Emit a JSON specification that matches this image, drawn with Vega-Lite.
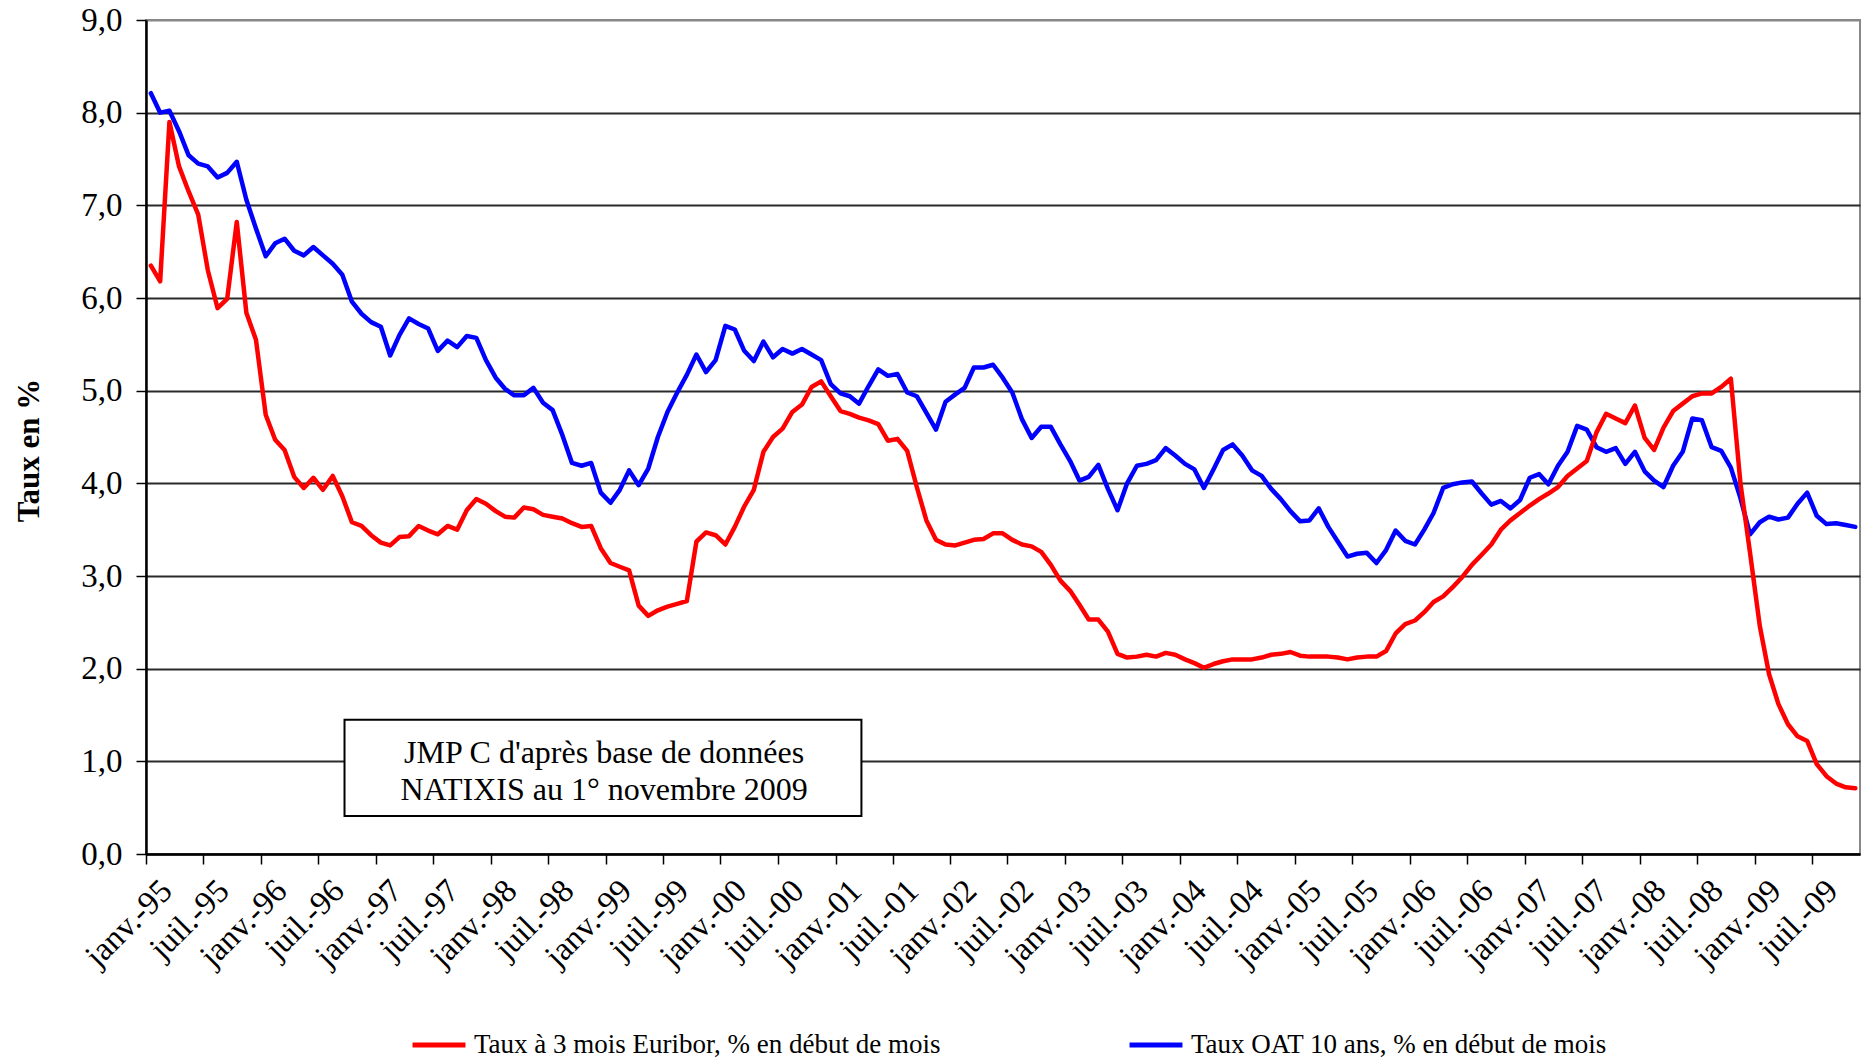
{
  "$schema": "https://vega.github.io/schema/vega-lite/v6.json",
  "width": 1714,
  "height": 834,
  "autosize": {"type": "none"},
  "padding": {"left": 146, "top": 20, "right": 1, "bottom": 209},
  "background": "white",
  "config": {
    "font": "Liberation Serif",
    "view": {"stroke": "#888888", "strokeWidth": 2},
    "axis": {"labelFont": "Liberation Serif", "titleFont": "Liberation Serif", "labelColor": "#000000", "titleColor": "#000000"}
  },
  "data": {
    "values": [
      {"m": "1995-01", "e": 6.35, "o": 8.21}, {"m": "1995-02", "e": 6.18, "o": 8.00}, {"m": "1995-03", "e": 7.90, "o": 8.02},
      {"m": "1995-04", "e": 7.42, "o": 7.80}, {"m": "1995-05", "e": 7.15, "o": 7.54}, {"m": "1995-06", "e": 6.90, "o": 7.45},
      {"m": "1995-07", "e": 6.30, "o": 7.42}, {"m": "1995-08", "e": 5.89, "o": 7.30}, {"m": "1995-09", "e": 5.99, "o": 7.35},
      {"m": "1995-10", "e": 6.82, "o": 7.47}, {"m": "1995-11", "e": 5.84, "o": 7.06}, {"m": "1995-12", "e": 5.55, "o": 6.75},
      {"m": "1996-01", "e": 4.74, "o": 6.45}, {"m": "1996-02", "e": 4.47, "o": 6.59}, {"m": "1996-03", "e": 4.36, "o": 6.64},
      {"m": "1996-04", "e": 4.07, "o": 6.51}, {"m": "1996-05", "e": 3.95, "o": 6.46}, {"m": "1996-06", "e": 4.06, "o": 6.55},
      {"m": "1996-07", "e": 3.93, "o": 6.46}, {"m": "1996-08", "e": 4.08, "o": 6.37}, {"m": "1996-09", "e": 3.86, "o": 6.25},
      {"m": "1996-10", "e": 3.58, "o": 5.96}, {"m": "1996-11", "e": 3.54, "o": 5.83}, {"m": "1996-12", "e": 3.44, "o": 5.74},
      {"m": "1997-01", "e": 3.36, "o": 5.69}, {"m": "1997-02", "e": 3.33, "o": 5.38}, {"m": "1997-03", "e": 3.42, "o": 5.60},
      {"m": "1997-04", "e": 3.43, "o": 5.78}, {"m": "1997-05", "e": 3.54, "o": 5.72}, {"m": "1997-06", "e": 3.49, "o": 5.67},
      {"m": "1997-07", "e": 3.45, "o": 5.43}, {"m": "1997-08", "e": 3.54, "o": 5.54}, {"m": "1997-09", "e": 3.50, "o": 5.47},
      {"m": "1997-10", "e": 3.71, "o": 5.59}, {"m": "1997-11", "e": 3.83, "o": 5.57}, {"m": "1997-12", "e": 3.78, "o": 5.33},
      {"m": "1998-01", "e": 3.70, "o": 5.14}, {"m": "1998-02", "e": 3.64, "o": 5.02}, {"m": "1998-03", "e": 3.63, "o": 4.95},
      {"m": "1998-04", "e": 3.74, "o": 4.95}, {"m": "1998-05", "e": 3.72, "o": 5.03}, {"m": "1998-06", "e": 3.66, "o": 4.87},
      {"m": "1998-07", "e": 3.64, "o": 4.79}, {"m": "1998-08", "e": 3.62, "o": 4.52}, {"m": "1998-09", "e": 3.57, "o": 4.22},
      {"m": "1998-10", "e": 3.53, "o": 4.19}, {"m": "1998-11", "e": 3.54, "o": 4.22}, {"m": "1998-12", "e": 3.30, "o": 3.90},
      {"m": "1999-01", "e": 3.14, "o": 3.79}, {"m": "1999-02", "e": 3.10, "o": 3.93}, {"m": "1999-03", "e": 3.06, "o": 4.14},
      {"m": "1999-04", "e": 2.68, "o": 3.98}, {"m": "1999-05", "e": 2.57, "o": 4.16}, {"m": "1999-06", "e": 2.63, "o": 4.50},
      {"m": "1999-07", "e": 2.67, "o": 4.77}, {"m": "1999-08", "e": 2.70, "o": 4.98}, {"m": "1999-09", "e": 2.73, "o": 5.17},
      {"m": "1999-10", "e": 3.37, "o": 5.39}, {"m": "1999-11", "e": 3.47, "o": 5.20}, {"m": "1999-12", "e": 3.44, "o": 5.33},
      {"m": "2000-01", "e": 3.34, "o": 5.70}, {"m": "2000-02", "e": 3.53, "o": 5.66}, {"m": "2000-03", "e": 3.75, "o": 5.43},
      {"m": "2000-04", "e": 3.93, "o": 5.32}, {"m": "2000-05", "e": 4.34, "o": 5.53}, {"m": "2000-06", "e": 4.50, "o": 5.36},
      {"m": "2000-07", "e": 4.59, "o": 5.45}, {"m": "2000-08", "e": 4.77, "o": 5.40}, {"m": "2000-09", "e": 4.85, "o": 5.45},
      {"m": "2000-10", "e": 5.04, "o": 5.39}, {"m": "2000-11", "e": 5.10, "o": 5.33}, {"m": "2000-12", "e": 4.94, "o": 5.07},
      {"m": "2001-01", "e": 4.78, "o": 4.97}, {"m": "2001-02", "e": 4.75, "o": 4.94}, {"m": "2001-03", "e": 4.71, "o": 4.86},
      {"m": "2001-04", "e": 4.68, "o": 5.05}, {"m": "2001-05", "e": 4.64, "o": 5.23}, {"m": "2001-06", "e": 4.46, "o": 5.16},
      {"m": "2001-07", "e": 4.48, "o": 5.18}, {"m": "2001-08", "e": 4.35, "o": 4.98}, {"m": "2001-09", "e": 3.96, "o": 4.94},
      {"m": "2001-10", "e": 3.60, "o": 4.76}, {"m": "2001-11", "e": 3.39, "o": 4.58}, {"m": "2001-12", "e": 3.34, "o": 4.88},
      {"m": "2002-01", "e": 3.33, "o": 4.96}, {"m": "2002-02", "e": 3.36, "o": 5.03}, {"m": "2002-03", "e": 3.39, "o": 5.25},
      {"m": "2002-04", "e": 3.40, "o": 5.25}, {"m": "2002-05", "e": 3.46, "o": 5.28}, {"m": "2002-06", "e": 3.46, "o": 5.14},
      {"m": "2002-07", "e": 3.39, "o": 4.98}, {"m": "2002-08", "e": 3.34, "o": 4.69}, {"m": "2002-09", "e": 3.32, "o": 4.49},
      {"m": "2002-10", "e": 3.26, "o": 4.61}, {"m": "2002-11", "e": 3.12, "o": 4.61}, {"m": "2002-12", "e": 2.95, "o": 4.42},
      {"m": "2003-01", "e": 2.84, "o": 4.24}, {"m": "2003-02", "e": 2.69, "o": 4.03}, {"m": "2003-03", "e": 2.53, "o": 4.07},
      {"m": "2003-04", "e": 2.53, "o": 4.20}, {"m": "2003-05", "e": 2.40, "o": 3.94}, {"m": "2003-06", "e": 2.16, "o": 3.71},
      {"m": "2003-07", "e": 2.12, "o": 4.00}, {"m": "2003-08", "e": 2.13, "o": 4.19}, {"m": "2003-09", "e": 2.15, "o": 4.21},
      {"m": "2003-10", "e": 2.13, "o": 4.25}, {"m": "2003-11", "e": 2.17, "o": 4.38}, {"m": "2003-12", "e": 2.15, "o": 4.30},
      {"m": "2004-01", "e": 2.10, "o": 4.21}, {"m": "2004-02", "e": 2.06, "o": 4.15}, {"m": "2004-03", "e": 2.01, "o": 3.95},
      {"m": "2004-04", "e": 2.05, "o": 4.15}, {"m": "2004-05", "e": 2.08, "o": 4.36}, {"m": "2004-06", "e": 2.10, "o": 4.42},
      {"m": "2004-07", "e": 2.10, "o": 4.30}, {"m": "2004-08", "e": 2.10, "o": 4.14}, {"m": "2004-09", "e": 2.12, "o": 4.08},
      {"m": "2004-10", "e": 2.15, "o": 3.94}, {"m": "2004-11", "e": 2.16, "o": 3.83}, {"m": "2004-12", "e": 2.18, "o": 3.70},
      {"m": "2005-01", "e": 2.14, "o": 3.59}, {"m": "2005-02", "e": 2.13, "o": 3.60}, {"m": "2005-03", "e": 2.13, "o": 3.73},
      {"m": "2005-04", "e": 2.13, "o": 3.53}, {"m": "2005-05", "e": 2.12, "o": 3.37}, {"m": "2005-06", "e": 2.10, "o": 3.21},
      {"m": "2005-07", "e": 2.12, "o": 3.24}, {"m": "2005-08", "e": 2.13, "o": 3.25}, {"m": "2005-09", "e": 2.13, "o": 3.14},
      {"m": "2005-10", "e": 2.19, "o": 3.28}, {"m": "2005-11", "e": 2.38, "o": 3.49}, {"m": "2005-12", "e": 2.48, "o": 3.38},
      {"m": "2006-01", "e": 2.52, "o": 3.34}, {"m": "2006-02", "e": 2.61, "o": 3.50}, {"m": "2006-03", "e": 2.72, "o": 3.68},
      {"m": "2006-04", "e": 2.78, "o": 3.95}, {"m": "2006-05", "e": 2.88, "o": 3.99}, {"m": "2006-06", "e": 2.99, "o": 4.01},
      {"m": "2006-07", "e": 3.12, "o": 4.02}, {"m": "2006-08", "e": 3.23, "o": 3.89}, {"m": "2006-09", "e": 3.34, "o": 3.77},
      {"m": "2006-10", "e": 3.50, "o": 3.81}, {"m": "2006-11", "e": 3.60, "o": 3.73}, {"m": "2006-12", "e": 3.68, "o": 3.82},
      {"m": "2007-01", "e": 3.76, "o": 4.06}, {"m": "2007-02", "e": 3.83, "o": 4.10}, {"m": "2007-03", "e": 3.89, "o": 3.99},
      {"m": "2007-04", "e": 3.96, "o": 4.19}, {"m": "2007-05", "e": 4.08, "o": 4.34}, {"m": "2007-06", "e": 4.16, "o": 4.62},
      {"m": "2007-07", "e": 4.24, "o": 4.58}, {"m": "2007-08", "e": 4.55, "o": 4.39}, {"m": "2007-09", "e": 4.75, "o": 4.34},
      {"m": "2007-10", "e": 4.70, "o": 4.38}, {"m": "2007-11", "e": 4.65, "o": 4.21}, {"m": "2007-12", "e": 4.84, "o": 4.34},
      {"m": "2008-01", "e": 4.49, "o": 4.13}, {"m": "2008-02", "e": 4.36, "o": 4.03}, {"m": "2008-03", "e": 4.60, "o": 3.96},
      {"m": "2008-04", "e": 4.78, "o": 4.19}, {"m": "2008-05", "e": 4.86, "o": 4.34}, {"m": "2008-06", "e": 4.94, "o": 4.70},
      {"m": "2008-07", "e": 4.97, "o": 4.68}, {"m": "2008-08", "e": 4.97, "o": 4.39}, {"m": "2008-09", "e": 5.04, "o": 4.35},
      {"m": "2008-10", "e": 5.13, "o": 4.17}, {"m": "2008-11", "e": 4.00, "o": 3.84}, {"m": "2008-12", "e": 3.25, "o": 3.45},
      {"m": "2009-01", "e": 2.46, "o": 3.58}, {"m": "2009-02", "e": 1.94, "o": 3.64}, {"m": "2009-03", "e": 1.62, "o": 3.61},
      {"m": "2009-04", "e": 1.40, "o": 3.63}, {"m": "2009-05", "e": 1.27, "o": 3.78}, {"m": "2009-06", "e": 1.22, "o": 3.90},
      {"m": "2009-07", "e": 0.97, "o": 3.65}, {"m": "2009-08", "e": 0.84, "o": 3.56}, {"m": "2009-09", "e": 0.76, "o": 3.57},
      {"m": "2009-10", "e": 0.72, "o": 3.55}, {"m": "2009-11", "e": 0.71, "o": 3.53}
    ]
  },
  "layer": [
    {
      "transform": [{"fold": ["o", "e"], "as": ["serie", "taux"]}],
      "mark": {"type": "line", "strokeWidth": 4.5, "strokeJoin": "round", "strokeCap": "round"},
      "encoding": {
        "x": {
          "field": "m",
          "type": "temporal",
          "timeUnit": "utcyearmonth",
          "bandPosition": 0.5,
          "scale": {
            "type": "utc",
            "domain": [{"year": 1995, "month": 1, "date": 1, "utc": true}, {"year": 2009, "month": 12, "date": 1, "utc": true}]
          },
          "axis": {
            "title": null,
            "grid": false,
            "tickCount": {"interval": "month", "step": 6},
            "labelExpr": "(utcmonth(datum.value) == 0 ? 'janv.' : 'juil.') + '-' + utcFormat(datum.value, '%y')",
            "labelAngle": -45,
            "labelAlign": "right",
            "labelBaseline": "top",
            "labelFontSize": 33,
            "labelPadding": 10,
            "labelOffset": 9,
            "labelOverlap": false,
            "labelBound": false,
            "labelFlush": false,
            "tickSize": 10,
            "tickColor": "#000000",
            "tickWidth": 1.5,
            "domainColor": "#000000",
            "domainWidth": 2.5
          }
        },
        "y": {
          "field": "taux",
          "type": "quantitative",
          "scale": {"domain": [0, 9], "nice": false, "zero": true},
          "axis": {
            "values": [0, 1, 2, 3, 4, 5, 6, 7, 8, 9],
            "labelExpr": "replace(format(datum.value, '.1f'), '.', ',')",
            "labelFontSize": 33,
            "labelPadding": 14,
            "tickSize": 10,
            "tickColor": "#000000",
            "tickWidth": 1.5,
            "domainColor": "#000000",
            "domainWidth": 2.5,
            "grid": true,
            "gridColor": {"condition": {"test": "datum.value === 9", "value": "#888888"}, "value": "#2a2a2a"},
            "gridWidth": 2,
            "title": "Taux en %",
            "titleFontSize": 31,
            "titleFontWeight": "bold",
            "titleAngle": -90,
            "titleAlign": "center",
            "titleBaseline": "middle",
            "titleX": -117,
            "titleY": 430
          }
        },
        "color": {
          "field": "serie",
          "type": "nominal",
          "scale": {"domain": ["e", "o"], "range": ["#FF0000", "#0000FF"]},
          "legend": {
            "orient": "none",
            "legendX": 264,
            "legendY": 996,
            "direction": "horizontal",
            "title": null,
            "padding": 0,
            "symbolType": "stroke",
            "symbolSize": 2800,
            "symbolStrokeWidth": 5,
            "labelFont": "Liberation Serif",
            "labelFontSize": 27,
            "labelColor": "#000000",
            "labelLimit": 1000,
            "labelOffset": 6,
            "columnPadding": 178,
            "labelExpr": "datum.label == 'e' ? 'Taux à 3 mois Euribor, % en début de mois' : 'Taux OAT 10 ans, % en début de mois'"
          }
        }
      }
    },
    {
      "data": {"values": [{}]},
      "mark": {"type": "rect", "fill": "#FFFFFF", "stroke": "#000000", "strokeWidth": 2},
      "encoding": {
        "x": {"datum": {"year": 1996, "month": 9, "date": 23, "utc": true}, "type": "temporal"},
        "x2": {"datum": {"year": 2001, "month": 3, "date": 24, "utc": true}},
        "y": {"datum": 1.45, "type": "quantitative"},
        "y2": {"datum": 0.41}
      }
    },
    {
      "data": {"values": [{}]},
      "mark": {
        "type": "text",
        "text": ["JMP C d'après base de données", "NATIXIS au 1° novembre 2009"],
        "font": "Liberation Serif",
        "fontSize": 32,
        "lineHeight": 37,
        "align": "center",
        "baseline": "middle",
        "color": "#000000"
      },
      "encoding": {
        "x": {"datum": {"year": 1998, "month": 12, "date": 27, "utc": true}, "type": "temporal"},
        "y": {"datum": 1.09, "type": "quantitative"}
      }
    }
  ]
}
